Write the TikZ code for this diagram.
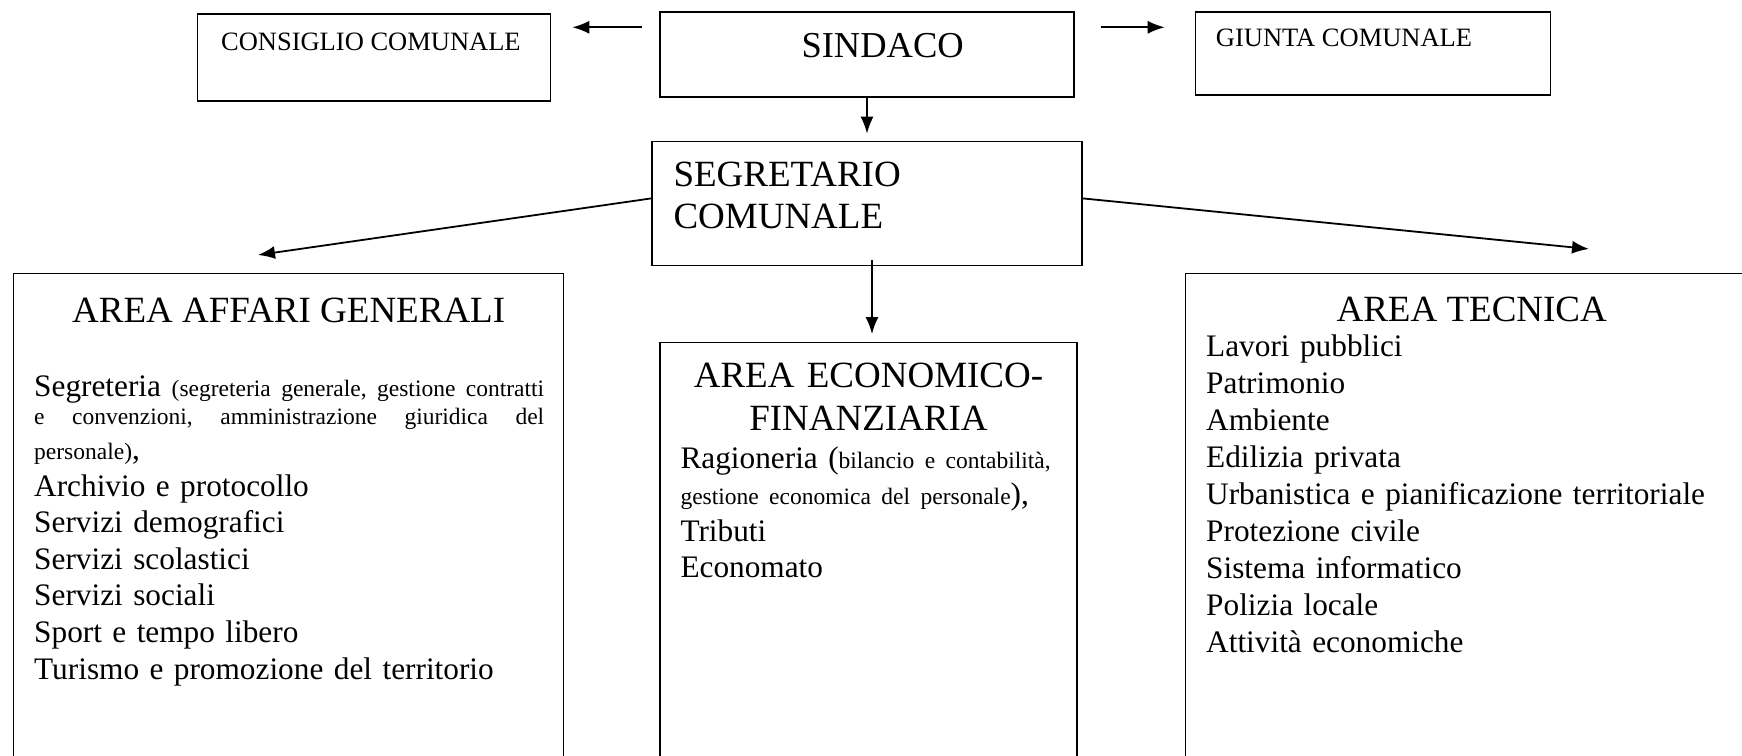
\documentclass[tikz,border=0pt]{standalone}
\usepackage{fontspec}
\setmainfont{Liberation Serif}
\usepackage{tikz}
\usetikzlibrary{arrows.meta, positioning}

\newcommand{\sml}{\fontsize{23.5}{36.6}\selectfont}

\begin{document}
\begin{tikzpicture}[
  x=1pt, y=1pt,
  box/.style={rectangle, draw, line width=1.4pt, inner sep=0pt},
  area/.style={box, anchor=north west, minimum height=520pt},
  txt/.style={inner sep=0pt, anchor=base west, align=left},
  head/.style={inner sep=0pt, anchor=base, align=center, font=\fontsize{37}{43}\selectfont},
  topfont/.style={font=\fontsize{26.5}{30}\selectfont},
  body/.style={font=\fontsize{31.3}{36.6}\selectfont},
  arrow/.style={-{Latex[length=17pt,width=13pt]}, line width=1.8pt}
]
\useasboundingbox (0,0) rectangle (1742,755);
\clip (0,0) rectangle (1742,755);

% Top nodes
\node[box, minimum width=414pt, minimum height=85pt] (sind) at (867,700.5) {};
\node[box, minimum width=353pt, minimum height=87pt, left=108pt of sind, yshift=-3pt] (cons) {};
\node[box, minimum width=355pt, minimum height=83pt, right=120pt of sind, yshift=1pt] (giunta) {};
\node[box, minimum width=430pt, minimum height=124pt, below=43pt of sind] (segr) {};

% Area nodes
\node[area, minimum width=550pt] (aag) at (13,482) {};
\node[box, minimum width=417pt, minimum height=460pt, below=76pt of segr, xshift=1.5pt] (aef) {};
\node[area, minimum width=572pt] (at) at (1185,482) {};

% Texts
\node[txt, topfont] (cons-t) at ([shift={(24pt,-37pt)}]cons.north west) {CONSIGLIO COMUNALE};
\node[txt, font=\fontsize{36.5}{42}\selectfont] (sind-t) at ([shift={(142pt,-46pt)}]sind.north west) {SINDACO};
\node[txt, topfont] (giunta-t) at ([shift={(21pt,-35pt)}]giunta.north west) {GIUNTA COMUNALE};
\node[txt, font=\fontsize{37}{42}\selectfont, text width=300pt] (segr-t) at ([shift={(22pt,-46pt)}]segr.north west) {SEGRETARIO\\COMUNALE};

\node[head] (aag-h) at ([yshift=-50pt]aag.north) {AREA AFFARI GENERALI};
\node[head, text width=417pt] (aef-h) at ([yshift=-45pt]aef.north) {AREA ECONOMICO-\\FINANZIARIA};
\node[head] (at-h) at ([yshift=-49pt]at.north) {AREA TECNICA};

\node[txt, body, text width=530pt] (aag-l) at ([shift={(21pt,-124pt)}]aag.north west)
  {\makebox[510pt][s]{Segreteria \hfill{\sml (segreteria generale, gestione contratti}}\\[-8.6pt]
   \makebox[510pt][s]{\sml e \hfill convenzioni, \hfill amministrazione \hfill giuridica \hfill del}\\[-2pt]
   {\sml personale)},\\
   Archivio e protocollo\\
   Servizi demografici\\
   Servizi scolastici\\
   Servizi sociali\\
   Sport e tempo libero\\
   Turismo e promozione del territorio};
\node[txt, body, text width=390pt] (aef-l) at ([shift={(21pt,-126pt)}]aef.north west)
  {Ragioneria ({\sml bilancio e contabilità,}\\
   {\sml gestione economica del personale}),\\
   Tributi\\
   Economato};
\node[txt, body, text width=540pt, font=\fontsize{31.3}{37}\selectfont] (at-l) at ([shift={(21pt,-84pt)}]at.north west)
  {Lavori pubblici\\
   Patrimonio\\
   Ambiente\\
   Edilizia privata\\
   Urbanistica e pianificazione territoriale\\
   Protezione civile\\
   Sistema informatico\\
   Polizia locale\\
   Attività economiche};

% Arrows
\draw[arrow, shorten <=17pt, shorten >=21pt] ([yshift=-16pt]sind.north west) -- ([yshift=-16pt]sind.north west -| cons.east);
\draw[arrow, shorten <=26pt, shorten >=30pt] ([yshift=-16pt]sind.north east) -- ([yshift=-16pt]sind.north east -| giunta.west);
\draw[arrow, shorten >=7pt] (sind.south) -- (segr.north);
\draw[arrow, shorten <=-6pt, shorten >=8pt] ([xshift=5pt]segr.south) -- ([xshift=5pt]segr.south |- aef.north);
\coordinate (aag-in) at (258,500);
\coordinate (at-in) at (1589,506);
\draw[arrow] ([yshift=5pt]segr.west) -- (aag-in);
\draw[arrow] ([yshift=5pt]segr.east) -- (at-in);

\end{tikzpicture}
\end{document}
